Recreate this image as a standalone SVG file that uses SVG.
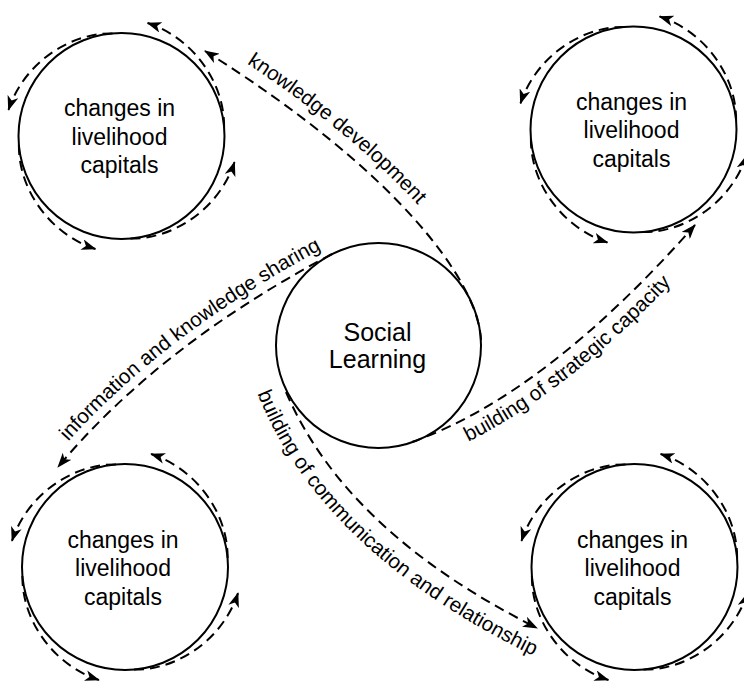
<svg xmlns="http://www.w3.org/2000/svg" width="744" height="687" viewBox="0 0 744 687">
<style>
.node circle{fill:#fff;stroke:#000;stroke-width:2}
.lbl{font-family:"Liberation Sans",Arial,Helvetica,sans-serif;fill:#000}
.nt{font-size:23px;text-anchor:middle}
.st{font-size:25px;text-anchor:middle}
.et{font-size:20.6px;text-anchor:middle}
.dash{fill:none;stroke:#000;stroke-width:2;stroke-dasharray:10 6}
</style>
<defs>
<marker id="ah" markerUnits="userSpaceOnUse" markerWidth="15" markerHeight="11" viewBox="0 0 15 11" refX="14" refY="5.5" orient="auto"><path d="M0,0 L15,5.5 L0,11 L4,5.5 z" fill="#000"/></marker>
<path id="arcA" class="dash" d="M102.6,-9 C103.2,-52.4 72.5,-97.8 26.1,-113" marker-end="url(#ah)"/>
<g id="cycle">
<use href="#arcA"/>
<use href="#arcA" transform="rotate(-90)"/>
<use href="#arcA" transform="rotate(180)"/>
<use href="#arcA" transform="rotate(90)"/>
</g>
<path id="tpK" d="M194.5,30.2 L211.4,40.8 C403.7,160.1 490.4,276.1 493,339.4"/>
<path id="tpI" d="M31.9,484.2 L51.1,461.2 Q154.3,337.9 327.8,246 L354.3,232"/>
<path id="tpS" d="M400.4,469.4 L419.3,462.7 Q557.7,413.8 711.5,239.6"/>
<path id="tpC" d="M249.4,375 L261.2,402.6 Q325.1,551.7 525.9,652.1 L552.7,665.5"/>
</defs>

<g id="nodes">
<g id="social-learning" class="node">
<circle cx="378.5" cy="345.5" r="102.5"/>
<text class="lbl st"><tspan x="377.5" y="340.5">Social</tspan><tspan x="377.5" y="368">Learning</tspan></text>
</g>
<g id="capitals-top-left" class="node">
<circle cx="121.5" cy="136" r="103"/>
<text class="lbl nt"><tspan x="119.5" y="116">changes in</tspan><tspan x="119.5" y="144.5">livelihood</tspan><tspan x="119.5" y="173">capitals</tspan></text>
</g>
<g id="capitals-top-right" class="node">
<circle cx="633.5" cy="129.5" r="103"/>
<text class="lbl nt"><tspan x="631.5" y="109.5">changes in</tspan><tspan x="631.5" y="138">livelihood</tspan><tspan x="631.5" y="166.5">capitals</tspan></text>
</g>
<g id="capitals-bottom-left" class="node">
<circle cx="125" cy="567" r="103"/>
<text class="lbl nt"><tspan x="123" y="547.5">changes in</tspan><tspan x="123" y="576">livelihood</tspan><tspan x="123" y="604.5">capitals</tspan></text>
</g>
<g id="capitals-bottom-right" class="node">
<circle cx="634.5" cy="567" r="103"/>
<text class="lbl nt"><tspan x="632.5" y="547.5">changes in</tspan><tspan x="632.5" y="576">livelihood</tspan><tspan x="632.5" y="604.5">capitals</tspan></text>
</g>
</g>

<g id="connectors">
<g id="cycles">
<use href="#cycle" transform="translate(121.5,136)"/>
<use href="#cycle" transform="translate(633.5,129.5)"/>
<use href="#cycle" transform="translate(125,567)"/>
<use href="#cycle" transform="translate(634.5,567)"/>
</g>
<g id="edge-knowledge">
<path class="dash" d="M481,340 C478,280 395,170 205,51" marker-end="url(#ah)"/>
<text class="lbl et"><textPath href="#tpK" startOffset="173">knowledge development</textPath></text>
</g>
<g id="edge-information">
<path class="dash" d="M332,254 Q160,345 58,467" marker-end="url(#ah)"/>
<text class="lbl et"><textPath href="#tpI" startOffset="216">information and knowledge sharing</textPath></text>
</g>
<g id="edge-strategic">
<path class="dash" d="M412,442 Q545,395 695,225" marker-end="url(#ah)"/>
<text class="lbl et"><textPath href="#tpS" startOffset="203">building of strategic capacity</textPath></text>
</g>
<g id="edge-communication">
<path class="dash" d="M286,392 Q346,532 537,628" marker-end="url(#ah)"/>
<text class="lbl et"><textPath href="#tpC" startOffset="215">building of communication and relationship</textPath></text>
</g>
</g>
</svg>
